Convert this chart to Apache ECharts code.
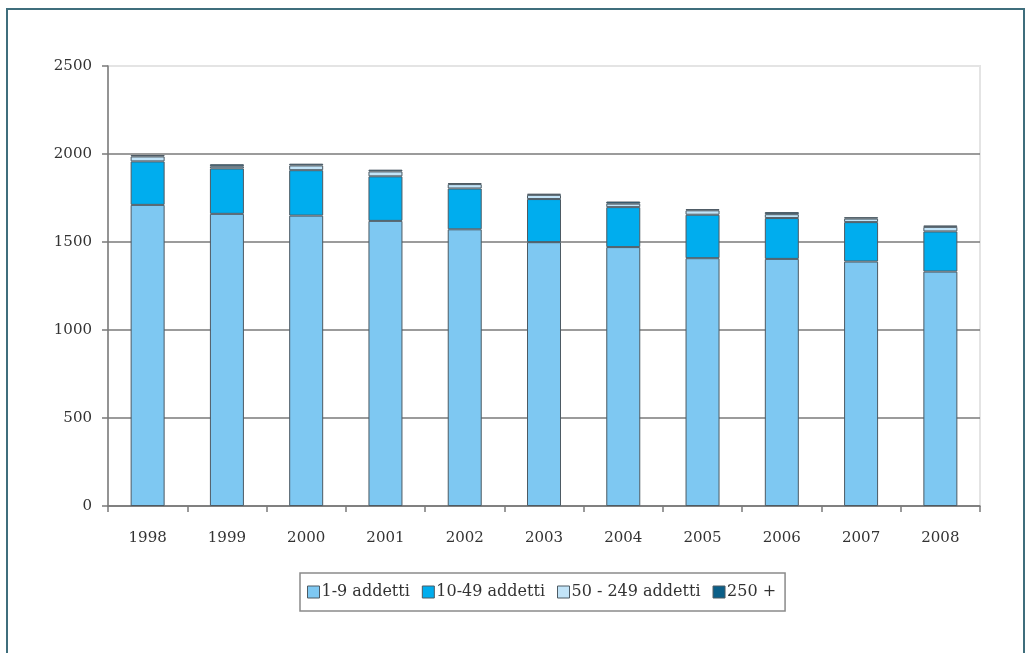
<!DOCTYPE html>
<html>
<head>
<meta charset="utf-8">
<script src="https://cdn.jsdelivr.net/npm/echarts@6/dist/echarts.min.js"></script>
<style>
html,body{margin:0;padding:0;background:#fff;}
#chart{width:1028px;height:653px;}
</style>
</head>
<body>
<div id="chart"></div>
<script>
var years = ['1998','1999','2000','2001','2002','2003','2004','2005','2006','2007','2008'];
var addetti_1_9 = [1711, 1660, 1650, 1620, 1572, 1499, 1471, 1408, 1404, 1389, 1332];
var addetti_10_49 = [247, 258, 258, 253, 232, 245, 227, 247, 232, 224, 228];
var addetti_50_249 = [28, 12, 27, 28, 25, 24, 20, 25, 22, 20, 26];
var addetti_250 = [8, 12, 10, 10, 6, 6, 12, 7, 12, 8, 8];
var seriesNames = ['1-9 addetti', '10-49 addetti', '50 - 249 addetti', '250 +'];
var seriesColors = ['#7ec8f2', '#00adee', '#c2e4f8', '#0b5f88'];
var yTicks = [0, 500, 1000, 1500, 2000, 2500];

var font = 'DejaVu Serif';
var chart = echarts.init(document.getElementById('chart'), null, {renderer: 'canvas'});
var data = [addetti_1_9, addetti_10_49, addetti_50_249, addetti_250];
var series = data.map(function (d, i) {
  return {
    name: seriesNames[i],
    type: 'bar',
    stack: 'total',
    barWidth: 34,
    data: d,
    itemStyle: {color: seriesColors[i], borderColor: '#4d5a63', borderWidth: 1},
    emphasis: {disabled: true}
  };
});
chart.setOption({
  animation: false,
  backgroundColor: '#fff',
  textStyle: {fontFamily: font},
  graphic: [{
    type: 'rect',
    shape: {x: 7, y: 9, width: 1017, height: 652},
    style: {fill: 'none', stroke: '#3f6e7c', lineWidth: 2},
    silent: true
  }],
  grid: {left: 108, right: 48, top: 66, bottom: 147, show: true, borderColor: '#e4e4e4', borderWidth: 2, backgroundColor: 'transparent'},
  legend: {
    data: seriesNames,
    left: 300,
    top: 573,
    orient: 'horizontal',
    padding: [11, 9, 11, 7],
    itemGap: 12,
    itemWidth: 12,
    itemHeight: 12,
    icon: 'rect',
    borderColor: '#8a8a8a',
    borderWidth: 1.5,
    textStyle: {fontFamily: font, fontSize: 16, color: '#333', padding: [0, 0, 0, -3]},
    itemStyle: {borderColor: '#4d5a63', borderWidth: 1}
  },
  xAxis: {
    type: 'category',
    data: years,
    axisLine: {lineStyle: {color: '#7a7a7a', width: 1.5}},
    axisTick: {show: true, length: 6, lineStyle: {color: '#7a7a7a', width: 1.5}},
    axisLabel: {fontFamily: font, fontSize: 15, color: '#333', margin: 25}
  },
  yAxis: {
    type: 'value',
    min: yTicks[0],
    max: yTicks[yTicks.length - 1],
    interval: 500,
    axisLine: {show: true, lineStyle: {color: '#7a7a7a', width: 1.5}},
    axisTick: {show: true, length: 6, lineStyle: {color: '#7a7a7a', width: 1.5}},
    axisLabel: {fontFamily: font, fontSize: 15, color: '#333', margin: 16, formatter: function (v) { return String(v); }},
    splitLine: {lineStyle: {color: ['#7a7a7a', '#7a7a7a', '#7a7a7a', '#7a7a7a', '#7a7a7a', '#e4e4e4'], width: 1.5}}
  },
  series: series
});
</script>
</body>
</html>
